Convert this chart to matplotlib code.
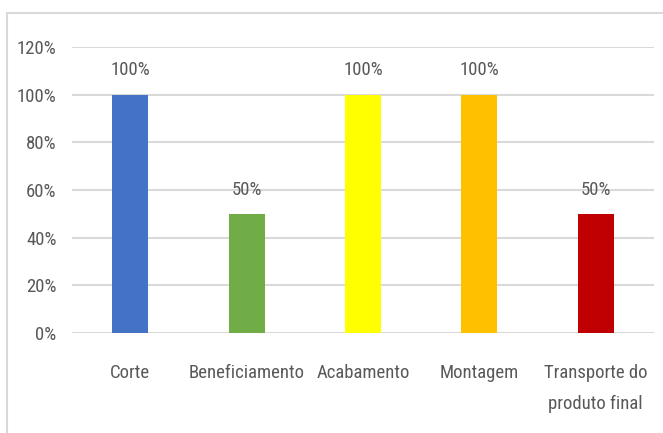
import matplotlib.pyplot as plt
from matplotlib.patches import Rectangle
from matplotlib.ticker import PercentFormatter

etapas = ['Corte', 'Beneficiamento', 'Acabamento', 'Montagem', 'Transporte do\nproduto final']
valores = [100, 50, 100, 100, 50]
cores = ['#4472C4', '#70AD47', '#FFFF00', '#FFC000', '#C00000']

plt.rcParams['font.family'] = ['Roboto Condensed', 'Carlito', 'DejaVu Sans']

cinza = '#595959'
tam = 13.5
fig = plt.figure(figsize=(6.63, 4.33), dpi=100)
ax = fig.add_axes([72 / 663, 1 - 333 / 433, (654 - 72) / 663, (333 - 47) / 433])

x = range(len(etapas))
ax.bar(x, valores, width=0.31, color=cores, zorder=3)
for xi, v in zip(x, valores):
    ax.annotate(f'{v}%', (xi, v), xytext=(0, 11), textcoords='offset points',
                ha='center', va='bottom', fontsize=tam, color=cinza)

ax.set_xlim(-0.5, len(etapas) - 0.5)
ax.set_ylim(0, 120)
ax.set_yticks(range(0, 121, 20))
ax.yaxis.set_major_formatter(PercentFormatter(decimals=0))
ax.set_xticks(list(x))
ax.set_xticklabels(etapas, linespacing=1.95)
ax.grid(axis='y', color='#d9d9d9', linewidth=1.5, zorder=0)
ax.tick_params(length=0, labelsize=tam, labelcolor=cinza)
ax.tick_params(axis='x', pad=22)
ax.tick_params(axis='y', pad=11)
for s in ax.spines.values():
    s.set_visible(False)

# moldura do gráfico
fig.patches.append(Rectangle((7 / 663, -0.1), 1.0, 1 - 13 / 433 + 0.1, transform=fig.transFigure,
                             fill=False, edgecolor='#d9d9d9', linewidth=1.5))

fig.savefig('out.png', dpi=100)
